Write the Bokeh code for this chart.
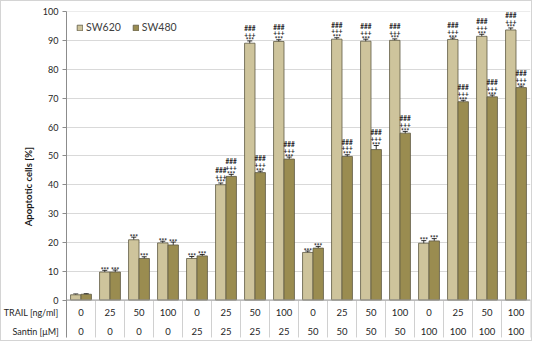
from bokeh.plotting import figure
from bokeh.models import (ColumnDataSource, FixedTicker, Legend, LegendItem,
                          Whisker, TeeHead, Range1d, Span)
from bokeh.transform import dodge
from bokeh.core.properties import value
from bokeh.embed import file_html
from bokeh.resources import INLINE

# ---------------- data ----------------
groups = list(range(16))
trail = ["0", "25", "50", "100", "0", "25", "50", "100",
         "0", "25", "50", "100", "0", "25", "50", "100"]
santin = ["0", "0", "0", "0", "25", "25", "25", "25",
          "50", "50", "50", "50", "100", "100", "100", "100"]
sw620 = [1.8, 9.7, 20.9, 19.8, 14.4, 40.0, 89.1, 89.7,
         16.5, 90.5, 89.8, 90.1, 19.7, 90.4, 91.5, 93.7]
sw480 = [2.0, 9.7, 14.4, 19.1, 15.3, 42.9, 44.2, 48.9,
         18.0, 49.8, 52.2, 57.9, 20.5, 68.8, 70.5, 73.7]
sw620_err = [0.3, 0.6, 0.9, 0.6, 0.7, 0.6, 0.8, 0.6,
             0.5, 0.5, 0.7, 0.5, 0.9, 0.5, 0.7, 0.7]
sw480_err = [0.2, 0.7, 0.6, 1.0, 0.5, 0.7, 0.5, 0.7,
             0.6, 0.6, 1.4, 0.6, 0.8, 0.5, 0.6, 0.5]
# significance marks per bar (rows from bottom to top)
sw620_sig1 = ["", "***", "***", "***", "***", "***", "***", "***",
              "***", "***", "***", "***", "***", "***", "***", "***"]
sw620_sig2 = ["", "", "", "", "", "+++", "+++", "+++",
              "", "+++", "+++", "+++", "", "+++", "+++", "+++"]
sw620_sig3 = ["", "", "", "", "", "###", "###", "###",
              "", "###", "###", "###", "", "###", "###", "###"]
sw480_sig1 = sw620_sig1
sw480_sig2 = sw620_sig2
sw480_sig3 = sw620_sig3
yticks = [0, 10, 20, 30, 40, 50, 60, 70, 80, 90, 100]
row_labels = ["TRAIL [ng/ml]", "Santin [\u03bcM]"]
y_title = "Apoptotic cells [%]"

# ---------------- layout ----------------
FONT = "Lato"
W, H = 532, 341
ML, MR, MT, MB = 65, 3, 10, 2
frame_h = H - MT - MB
zero_px = 288.5          # px from frame top to y = 0
top_px = 0.3             # px from frame top to y = 100
ppu = (zero_px - top_px) / 100.0
y_end = 100 + top_px / ppu
y_start = -(frame_h - zero_px) / ppu
upp = 1.0 / ppu          # data units per pixel
TRAIL_Y = -4.45
SANTIN_Y = -11.05
TABLE_BOTTOM = -13.0

C620 = "#CEC49C"
C480 = "#9A8C50"
EDGE = "#5f5a44"

p = figure(width=W, height=H, x_range=Range1d(-0.5, 15.5),
           y_range=Range1d(y_start, y_end), output_backend="svg",
           toolbar_location=None, x_axis_location=None,
           min_border_left=ML, min_border_right=MR, min_border_top=MT,
           min_border_bottom=MB, outline_line_color=None)
p.styles = {"border": "1px solid #d4d4d4"}

src = ColumnDataSource(dict(
    g=groups, trail=trail, santin=santin,
    sw620=sw620, sw480=sw480,
    up620=[v + e for v, e in zip(sw620, sw620_err)],
    lo620=[v - e for v, e in zip(sw620, sw620_err)],
    up480=[v + e for v, e in zip(sw480, sw480_err)],
    lo480=[v - e for v, e in zip(sw480, sw480_err)],
    s620a=sw620_sig1, s620b=sw620_sig2, s620c=sw620_sig3,
    s480a=sw480_sig1, s480b=sw480_sig2, s480c=sw480_sig3,
))
for pre in ("620", "480"):
    up = src.data["up" + pre]
    src.data["t" + pre + "a"] = [u + 0.0 * upp for u in up]
    src.data["t" + pre + "b"] = [u + 6.3 * upp for u in up]
    src.data["t" + pre + "c"] = [u + 12.6 * upp for u in up]

# y axis (numbers + table row labels), tick marks only at 0..100
ax = p.yaxis[0]
ax.ticker = FixedTicker(ticks=[SANTIN_Y, TRAIL_Y] + yticks, minor_ticks=yticks)
ax.major_label_overrides = {SANTIN_Y: row_labels[1], TRAIL_Y: row_labels[0]}
ax.bounds = (TABLE_BOTTOM, 100)
ax.axis_line_color = "#8c8c8c"
ax.major_tick_out = 0
ax.major_tick_in = 0
ax.minor_tick_out = 4
ax.minor_tick_in = 0
ax.minor_tick_line_color = "#8c8c8c"
ax.major_label_standoff = 4
ax.major_label_text_font = FONT
ax.major_label_text_font_size = "9px"
ax.major_label_text_color = "#262626"
# trailing em spaces move the centred title down to the middle of the whole plot area
ax.axis_label = y_title + "\u2003\u2003\u2003"
ax.axis_label_text_font = FONT
ax.axis_label_text_font_size = "9.5px"
ax.axis_label_text_font_style = "bold"
ax.axis_label_text_color = "#1a1a1a"
ax.axis_label_standoff = -33

p.ygrid.ticker = FixedTicker(ticks=yticks)
p.ygrid.grid_line_color = "#d9d9d9"
p.xgrid.visible = False
p.add_layout(Span(location=0, dimension="width", line_color="#a0a0a0", line_width=1))

# bars
DX = 0.18
BW = 0.36
r1 = p.vbar(x=dodge("g", -DX, range=p.x_range), top="sw620", width=BW, bottom=0,
            source=src, fill_color=C620, line_color=EDGE, line_width=0.8)
r2 = p.vbar(x=dodge("g", DX, range=p.x_range), top="sw480", width=BW, bottom=0,
            source=src, fill_color=C480, line_color=EDGE, line_width=0.8)

for off, up, lo in ((-DX, "up620", "lo620"), (DX, "up480", "lo480")):
    w = Whisker(source=src, base=dodge("g", off, range=p.x_range), upper=up, lower=lo,
                line_color="black", line_width=0.8,
                upper_head=TeeHead(size=5, line_color="black", line_width=0.8),
                lower_head=TeeHead(size=5, line_color="black", line_width=0.8))
    p.add_layout(w)

# significance marks
for off, pre in ((-DX, "620"), (DX, "480")):
    for row in "abc":
        p.text(x=dodge("g", off, range=p.x_range), y="t" + pre + row, text="s" + pre + row,
               source=src, text_align="center", text_baseline="alphabetic",
               text_font=value(FONT), text_font_size="6.5px", text_font_style="bold",
               text_color="#1a1a1a")

# table below the chart
p.text(x="g", y=TRAIL_Y, text="trail", source=src, text_align="center",
       text_baseline="middle", text_font=value(FONT), text_font_size="9.5px",
       text_color="#262626")
p.text(x="g", y=SANTIN_Y, text="santin", source=src, text_align="center",
       text_baseline="middle", text_font=value(FONT), text_font_size="9.5px",
       text_color="#262626")
edges = [g - 0.5 for g in groups] + [groups[-1] + 0.5]
p.segment(x0=edges, y0=[0] * len(edges), x1=edges, y1=[TABLE_BOTTOM] * len(edges),
          line_color="#d0d0d0", line_width=1)

legend = Legend(items=[LegendItem(label="SW620", renderers=[r1]),
                       LegendItem(label="SW480", renderers=[r2])],
                location="top_left", orientation="horizontal",
                glyph_width=7, glyph_height=7, label_standoff=3, spacing=11,
                padding=0, margin=10, border_line_color=None,
                background_fill_alpha=0, label_text_font=FONT,
                label_text_font_size="10.5px", label_text_color="#404040",
                label_height=10)
p.add_layout(legend)

open("out.html", "w").write(file_html(p, INLINE))
